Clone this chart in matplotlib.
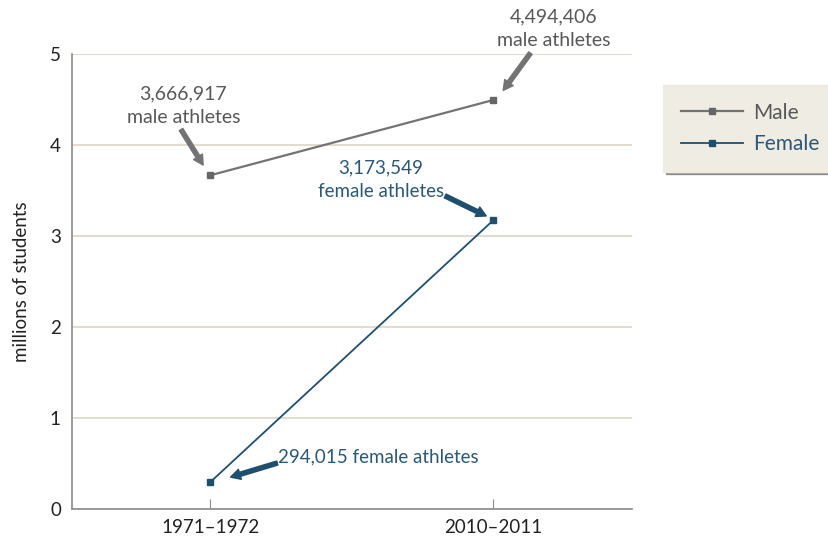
import matplotlib
matplotlib.use("Agg")
import matplotlib.pyplot as plt

periods = ["1971–1972", "2010–2011"]
male = [3.666917, 4.494406]
female = [0.294015, 3.173549]
male_labels = ["3,666,917\nmale athletes", "4,494,406\nmale athletes"]
female_labels = ["294,015 female athletes", "3,173,549\nfemale athletes"]
yticks = [0, 1, 2, 3, 4, 5]

plt.rcParams['font.family'] = ['Lato', 'DejaVu Sans']

MALE_C = "#737373"
FEM_C = "#1f4f6e"
MALE_T = "#585858"
FEM_T = "#2b5877"
GRID_C = "#dcd5c6"

fig = plt.figure(figsize=(8.29, 5.39), dpi=100)
ax = fig.add_axes([0.0869, 0.0557, 0.7624 - 0.0869, 0.8998 - 0.0557])

x = list(range(len(periods)))
ax.plot(x, male, color=MALE_C, lw=1.6, marker="s", ms=5, mfc="#666666", mec="#666666", label="Male", zorder=3)
ax.plot(x, female, color=FEM_C, lw=1.3, marker="s", ms=5, mfc=FEM_C, mec=FEM_C, label="Female", zorder=3)

ax.set_xlim(-0.488, 1.49)
ax.set_ylim(0, 5)
ax.set_yticks(yticks)
ax.set_xticks(x)
ax.set_xticklabels(periods)
ax.yaxis.grid(True, color=GRID_C, lw=1.2)
ax.set_axisbelow(True)
for s in ["top", "right"]:
    ax.spines[s].set_visible(False)
for s in ["left", "bottom"]:
    ax.spines[s].set_color("#8a8a8a")
    ax.spines[s].set_linewidth(1.2)
ax.tick_params(axis="y", length=0, labelsize=13.5, colors="#222222", pad=8)
ax.tick_params(axis="x", direction="in", length=7, color="#8a8a8a", labelsize=13.5, labelcolor="#222222", pad=7)
ax.set_ylabel("millions of students", fontsize=13.5, color="#222222", labelpad=14)

ap = dict(arrowstyle="simple,head_length=0.7,head_width=0.75,tail_width=0.3", shrinkA=0, shrinkB=0)
def arrow(tail, head, c):
    d = dict(ap); d["color"] = c
    ax.annotate("", xy=head, xytext=tail, arrowprops=d, annotation_clip=False, zorder=4)

arrow((-0.103, 4.17), (-0.025, 3.78), MALE_C)
arrow((1.131, 5.01), (1.035, 4.60), MALE_C)
arrow((0.830, 3.44), (0.975, 3.22), FEM_C)
arrow((0.237, 0.505), (0.072, 0.35), FEM_C)

ax.text(-0.095, 4.43, male_labels[0], ha="center", va="center", fontsize=14, color=MALE_T, linespacing=1.45)
ax.text(1.212, 5.28, male_labels[1], ha="center", va="center", fontsize=14, color=MALE_T, linespacing=1.45)
ax.text(0.603, 3.62, female_labels[1], ha="center", va="center", fontsize=13.5, color=FEM_T, linespacing=1.45)
ax.text(0.240, 0.571, female_labels[0], ha="left", va="center", fontsize=13.5, color=FEM_T)

leg = fig.legend(loc="upper left", bbox_to_anchor=(0.787, 0.862), frameon=True, fancybox=False,
                 shadow=True, fontsize=15, handlelength=3.0, borderpad=0.85, labelspacing=0.55,
                 handletextpad=0.5)
leg.get_frame().set_facecolor("#efece3")
leg.get_frame().set_edgecolor("#efece3")
for t, c in zip(leg.get_texts(), [MALE_T, FEM_T]):
    t.set_color(c)

fig.savefig("out.png", dpi=100)
